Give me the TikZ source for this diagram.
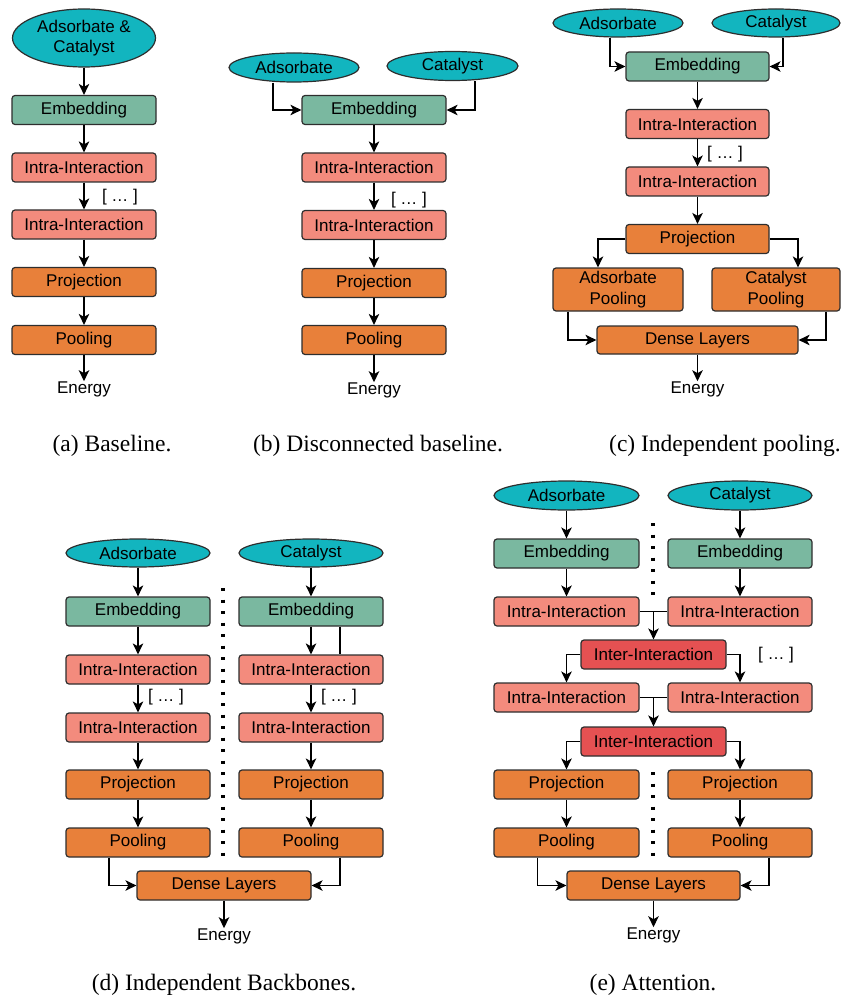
\documentclass[tikz,border=0pt]{standalone}
\usepackage{fontspec}
\setmainfont{Liberation Sans}
\newfontfamily\capfont{Liberation Serif}
\usetikzlibrary{shapes.geometric,arrows.meta}
\definecolor{cyanc}{HTML}{12B5BF}
\definecolor{embc}{HTML}{7AB8A0}
\definecolor{intrac}{HTML}{F38B7D}
\definecolor{interc}{HTML}{E55152}
\definecolor{projc}{HTML}{E8803A}
\definecolor{edgec}{HTML}{2E2E2E}
\begin{document}
\begin{tikzpicture}[x=1pt,y=-1pt,
  every node/.style={font=\fontsize{17}{20.5}\selectfont, text=black},
  box/.style={draw=edgec, line width=1.2pt, rounded corners=3pt, minimum width=144pt, minimum height=29pt, inner sep=0pt, align=center},
  embbox/.style={box, fill=embc},
  intrabox/.style={box, fill=intrac},
  interbox/.style={box, fill=interc},
  projbox/.style={box, fill=projc},
  ell/.style={ellipse, draw=edgec, line width=1.2pt, fill=cyanc, inner sep=0pt, minimum width=130pt, minimum height=29pt, align=center},
  arr/.style={draw=black, line width=1.3pt, -{Stealth[length=11pt,width=10.5pt,inset=3pt]}},
  ln/.style={draw=black, line width=1.3pt},
  dotl/.style={draw=black, line width=3.3pt, dash pattern=on 3.3pt off 8.2pt},
  lbl/.style={inner sep=0pt},
  capt/.style={font=\capfont\fontsize{23.5}{27}\selectfont, inner sep=0pt}
]
\useasboundingbox (0,0) rectangle (840,1000);

% ---------------- (a) ----------------
\node[ell, minimum width=143pt, minimum height=58pt] (adsA) at (84,38) {Adsorbate \&\\Catalyst};
\node[embbox] (embA) at (84,110) {Embedding};
\node[intrabox] (i1A) at (84,167.5) {Intra-Interaction};
\node[intrabox] (i2A) at (84,224.5) {Intra-Interaction};
\node[projbox] (prA) at (84,282) {Projection};
\node[projbox] (poA) at (84,340) {Pooling};
\node[lbl] (enA) at (84,389) {Energy};
\node[lbl] (dtA) at (120,197) {[ … ]};
\draw[arr] (adsA) -- (embA);
\draw[arr] (embA) -- (i1A);
\draw[arr] (i1A) -- (i2A);
\draw[arr] (i2A) -- (prA);
\draw[arr] (prA) -- (poA);
\draw[arr] (poA) -- (enA);
\node[capt] (capA) at (112,446) {(a) Baseline.};

% ---------------- (b) ----------------
\node[ell] (adsB) at (294,67.5) {Adsorbate};
\node[ell, minimum width=131pt] (catB) at (452.5,66) {Catalyst};
\node[embbox] (embB) at (374,110) {Embedding};
\node[intrabox] (i1B) at (374,167.5) {Intra-Interaction};
\node[intrabox] (i2B) at (374,225) {Intra-Interaction};
\node[projbox] (prB) at (374,283) {Projection};
\node[projbox] (poB) at (374,340) {Pooling};
\node[lbl] (enB) at (374,390) {Energy};
\node[lbl] (dtB) at (409,200) {[ … ]};
\draw[arr] ([xshift=-21pt]adsB.south) |- (embB.west);
\draw[arr] ([xshift=22.5pt]catB.south) |- (embB.east);
\draw[arr] (embB) -- (i1B);
\draw[arr] (i1B) -- (i2B);
\draw[arr] (i2B) -- (prB);
\draw[arr] (prB) -- (poB);
\draw[arr] (poB) -- (enB);
\node[capt] (capB) at (378,446) {(b) Disconnected baseline.};

% ---------------- (c) ----------------
\node[ell, minimum height=28pt] (adsC) at (618,23) {Adsorbate};
\node[ell, minimum width=128pt, minimum height=28pt] (catC) at (776,23) {Catalyst};
\node[embbox, minimum width=143pt] (embC) at (697.5,66.5) {Embedding};
\node[intrabox, minimum width=143pt] (i1C) at (697.5,124) {Intra-Interaction};
\node[intrabox, minimum width=143pt] (i2C) at (697.5,181.5) {Intra-Interaction};
\node[projbox, minimum width=143pt] (prC) at (697.5,239) {Projection};
\node[projbox, minimum width=130pt, minimum height=43pt] (apC) at (618,289.5) {Adsorbate\\Pooling};
\node[projbox, minimum width=128pt, minimum height=43pt] (cpC) at (776,289.5) {Catalyst\\Pooling};
\node[projbox, minimum width=201pt, minimum height=28pt] (dlC) at (697.5,340) {Dense Layers};
\node[lbl] (enC) at (697.5,389) {Energy};
\node[lbl] (dtC) at (725,154) {[ … ]};
\draw[arr] ([xshift=-8pt]adsC.south) |- (embC.west);
\draw[arr] ([xshift=7pt]catC.south) |- (embC.east);
\draw[arr] (embC) -- (i1C);
\draw[arr] (i1C) -- (i2C);
\draw[arr] (i2C) -- (prC);
\draw[arr] (prC.west) -| ([xshift=-20pt]apC.north);
\draw[arr] (prC.east) -| ([xshift=22pt]cpC.north);
\draw[arr] ([xshift=-50pt]apC.south) |- (dlC.west);
\draw[arr] ([xshift=50pt]cpC.south) |- (dlC.east);
\draw[arr] (dlC) -- (enC);
\node[capt] (capC) at (725,446) {(c) Independent pooling.};

% ---------------- (d) ----------------
\node[ell, minimum width=144pt, minimum height=28pt] (adsD) at (138,553) {Adsorbate};
\node[ell, minimum width=144pt, minimum height=28pt] (catD) at (311,553) {Catalyst};
\node[embbox] (embDL) at (138,611.5) {Embedding};
\node[embbox] (embDR) at (311,611.5) {Embedding};
\node[intrabox] (i1DL) at (138,669.5) {Intra-Interaction};
\node[intrabox] (i1DR) at (311,669.5) {Intra-Interaction};
\node[intrabox] (i2DL) at (138,727.5) {Intra-Interaction};
\node[intrabox] (i2DR) at (311,727.5) {Intra-Interaction};
\node[projbox] (prDL) at (138,784.5) {Projection};
\node[projbox] (prDR) at (311,784.5) {Projection};
\node[projbox] (poDL) at (138,842.5) {Pooling};
\node[projbox] (poDR) at (311,842.5) {Pooling};
\node[projbox, minimum width=174pt] (dlD) at (224,885.5) {Dense Layers};
\node[lbl] (enD) at (224,936) {Energy};
\node[lbl] (dtDL) at (166,697) {[ … ]};
\node[lbl] (dtDR) at (339,697) {[ … ]};
\draw[arr] (adsD) -- (embDL);
\draw[arr] (catD) -- (embDR);
\draw[arr] (embDL) -- (i1DL);
\draw[arr] (embDR) -- (i1DR);
\draw[ln] ([xshift=29pt]embDR.south) -- ([xshift=29pt]i1DR.north);
\draw[arr] (i1DL) -- (i2DL);
\draw[arr] (i1DR) -- (i2DR);
\draw[arr] (i2DL) -- (prDL);
\draw[arr] (i2DR) -- (prDR);
\draw[arr] (prDL) -- (poDL);
\draw[arr] (prDR) -- (poDR);
\draw[arr] ([xshift=-29pt]poDL.south) |- (dlD.west);
\draw[arr] ([xshift=29pt]poDR.south) |- (dlD.east);
\draw[arr] (dlD) -- (enD);
\coordinate (dDa) at (223,588);
\coordinate (dDb) at (223,858);
\draw[dotl] (dDa) -- (dDb);
\node[capt] (capD) at (224,985) {(d) Independent Backbones.};

% ---------------- (e) ----------------
\node[ell, minimum width=145pt] (adsE) at (566.5,495.5) {Adsorbate};
\node[ell, minimum width=144pt] (catE) at (740,495.5) {Catalyst};
\node[embbox, minimum width=145pt] (embEL) at (566.5,553.5) {Embedding};
\node[embbox] (embER) at (740,553.5) {Embedding};
\node[intrabox, minimum width=145pt] (i1EL) at (566.5,611.5) {Intra-Interaction};
\node[intrabox] (i1ER) at (740,611.5) {Intra-Interaction};
\node[interbox, minimum width=145pt] (in1E) at (653.5,654.5) {Inter-Interaction};
\node[intrabox, minimum width=145pt] (i2EL) at (566.5,697.5) {Intra-Interaction};
\node[intrabox] (i2ER) at (740,697.5) {Intra-Interaction};
\node[interbox, minimum width=145pt] (in2E) at (653.5,741.5) {Inter-Interaction};
\node[projbox, minimum width=145pt] (prEL) at (566.5,784.5) {Projection};
\node[projbox] (prER) at (740,784.5) {Projection};
\node[projbox, minimum width=145pt] (poEL) at (566.5,842.5) {Pooling};
\node[projbox] (poER) at (740,842.5) {Pooling};
\node[projbox, minimum width=173pt] (dlE) at (653.5,885.5) {Dense Layers};
\node[lbl] (enE) at (653.5,935) {Energy};
\node[lbl] (dtE) at (776,655) {[ … ]};
\draw[arr] (adsE) -- (embEL);
\draw[arr] (catE) -- (embER);
\draw[arr] (embEL) -- (i1EL);
\draw[arr] (embER) -- (i1ER);
\draw[ln] (i1EL.east) -- (i1ER.west);
\draw[arr] (in1E.north |- i1EL.east) -- (in1E.north);
\draw[arr] (in1E.west) -| (i2EL.north);
\draw[arr] (in1E.east) -| (i2ER.north);
\draw[ln] (i2EL.east) -- (i2ER.west);
\draw[arr] (in2E.north |- i2EL.east) -- (in2E.north);
\draw[arr] (in2E.west) -| (prEL.north);
\draw[arr] (in2E.east) -| (prER.north);
\draw[arr] (prEL) -- (poEL);
\draw[arr] (prER) -- (poER);
\draw[arr] ([xshift=-29pt]poEL.south) |- (dlE.west);
\draw[arr] ([xshift=29pt]poER.south) |- (dlE.east);
\draw[arr] (dlE) -- (enE);
\coordinate (dEa) at (653,523);
\coordinate (dEb) at (653,597);
\draw[dotl] (dEa) -- (dEb);
\coordinate (dEc) at (653,772);
\coordinate (dEd) at (653,856);
\draw[dotl] (dEc) -- (dEd);
\node[capt] (capE) at (653,985) {(e) Attention.};
\end{tikzpicture}
\end{document}
